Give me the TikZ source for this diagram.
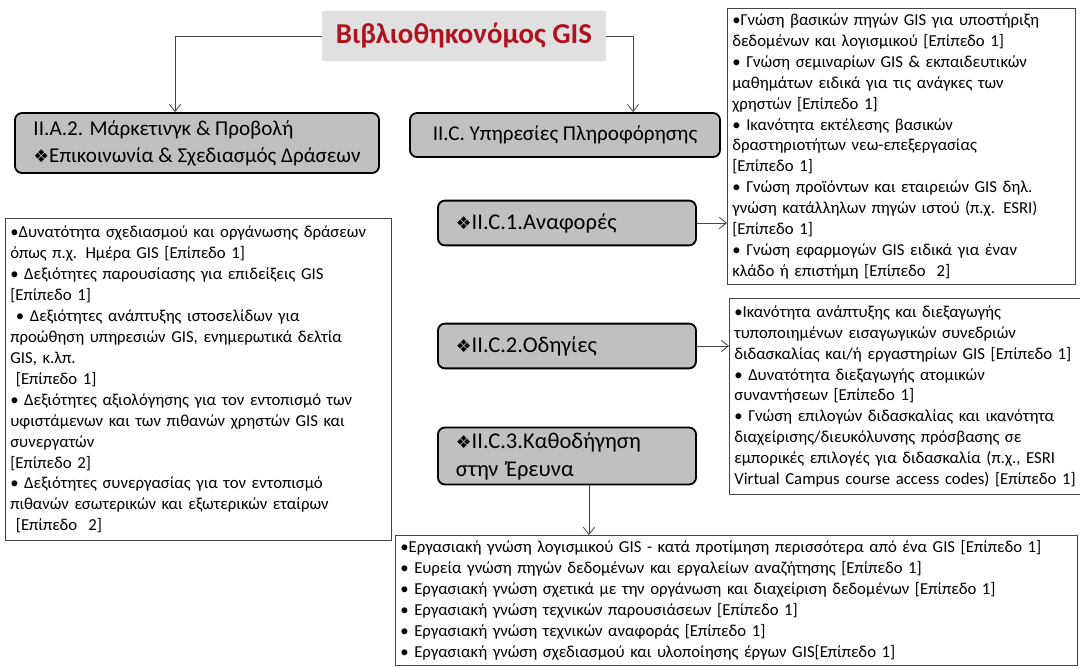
\documentclass[tikz,border=0pt]{standalone}
\usepackage{fontspec}
\setmainfont{Carlito}
\newfontfamily\symfont{DejaVu Sans}
\usetikzlibrary{arrows.meta,positioning}
\definecolor{gisred}{RGB}{175,18,32}
\definecolor{gisgray}{RGB}{192,192,192}
\definecolor{gislight}{RGB}{224,224,224}
\definecolor{gisline}{RGB}{70,70,70}
\newcommand{\dia}{{\symfont\fontsize{12.5}{12.5}\selectfont ❖}}

\begin{document}
\begin{tikzpicture}[
  x=0.025cm, y=-0.025cm,
  title/.style={fill=gislight, rounded corners=2pt, minimum width=7.1cm, minimum height=1.27cm, font=\fontsize{20.5}{24}\selectfont\bfseries, text=gisred},
  unit/.style={draw=black, line width=1.3pt, rounded corners=5pt, fill=gisgray, font=\fontsize{15}{19}\selectfont},
  sub/.style={unit, minimum width=6.45cm, align=left, text width=5.55cm, font=\fontsize{16}{20}\selectfont},
  list/.style={draw=gisline, line width=0.6pt, anchor=north west, align=left, inner xsep=3.5pt, inner ysep=3pt, font=\fontsize{11.9}{14.9}\selectfont},
  conn/.style={draw=gisline, line width=0.6pt, -{Straight Barb[length=5pt,width=8pt]}},
]
\useasboundingbox (0,0) rectangle (1080,668);

\node[title] (lib) at (464,36) {Βιβλιοθηκονόμος GIS};

\node[unit, align=left, minimum width=9.1cm, minimum height=1.5cm] (mkt) at (197,143)
  {II.A.2. Μάρκετινγκ \& Προβολή\\\dia Επικοινωνία \& Σχεδιασμός Δράσεων};
\node[unit, minimum width=7.75cm, minimum height=1.1cm] (info) at (565,135) {II.C. Υπηρεσίες Πληροφόρησης};

\node[sub, minimum height=1.12cm] (rep) at (567,223) {\dia II.C.1.Αναφορές};
\node[sub, minimum height=1.12cm] (gui) at (567,346) {\dia II.C.2.Οδηγίες};
\node[sub, minimum height=1.35cm] (res) at (567,456) {\dia II.C.3.Καθοδήγηση\\στην Έρευνα};

% lists of skills
\node[list, text width=8.45cm, minimum height=6.9cm] (repl) at (727,8) {%
•Γνώση βασικών πηγών GIS για υποστήριξη\\
δεδομένων και λογισμικού [Επίπεδο 1]\\
• Γνώση σεμιναρίων GIS \& εκπαιδευτικών\\
μαθημάτων ειδικά για τις ανάγκες των\\
χρηστών [Επίπεδο 1]\\
• Ικανότητα εκτέλεσης βασικών\\
δραστηριοτήτων νεω-επεξεργασίας\\
{[Επίπεδο 1]}\\
• Γνώση προϊόντων και εταιρειών GIS δηλ.\\
γνώση κατάλληλων πηγών ιστού (π.χ. ESRI)\\
{[Επίπεδο 1]}\\
• Γνώση εφαρμογών GIS ειδικά για έναν\\
κλάδο ή επιστήμη [Επίπεδο~~2]};

\node[list, text width=9.4cm, minimum height=8.05cm] (mktl) at (5,218) {%
•Δυνατότητα σχεδιασμού και οργάνωσης δράσεων\\
όπως π.χ. Ημέρα GIS [Επίπεδο 1]\\
• Δεξιότητες παρουσίασης για επιδείξεις GIS\\
{[Επίπεδο 1]}\\
\ • Δεξιότητες ανάπτυξης ιστοσελίδων για\\
προώθηση υπηρεσιών GIS, ενημερωτικά δελτία\\
GIS, κ.λπ.\\
\ [Επίπεδο 1]\\
• Δεξιότητες αξιολόγησης για τον εντοπισμό των\\
υφιστάμενων και των πιθανών χρηστών GIS και\\
συνεργατών\\
{[Επίπεδο 2]}\\
• Δεξιότητες συνεργασίας για τον εντοπισμό\\
πιθανών εσωτερικών και εξωτερικών εταίρων\\
\ [Επίπεδο~~2]};

\node[list, text width=8.6cm, minimum height=4.9cm] (guil) at (729,298) {%
•Ικανότητα ανάπτυξης και διεξαγωγής\\
τυποποιημένων εισαγωγικών συνεδριών\\
διδασκαλίας και/ή εργαστηρίων GIS [Επίπεδο 1]\\
• Δυνατότητα διεξαγωγής ατομικών\\
συναντήσεων [Επίπεδο 1]\\
• Γνώση επιλογών διδασκαλίας και ικανότητα\\
διαχείρισης/διευκόλυνσης πρόσβασης σε\\
εμπορικές επιλογές για διδασκαλία (π.χ., ESRI\\
Virtual Campus course access codes) [Επίπεδο 1]};

\node[list, text width=16.8cm, minimum height=3.25cm] (resl) at (395,535) {%
•Εργασιακή γνώση λογισμικού GIS - κατά προτίμηση περισσότερα από ένα GIS [Επίπεδο 1]\\
• Ευρεία γνώση πηγών δεδομένων και εργαλείων αναζήτησης [Επίπεδο 1]\\
• Εργασιακή γνώση σχετικά με την οργάνωση και διαχείριση δεδομένων [Επίπεδο 1]\\
• Εργασιακή γνώση τεχνικών παρουσιάσεων [Επίπεδο 1]\\
• Εργασιακή γνώση τεχνικών αναφοράς [Επίπεδο 1]\\
• Εργασιακή γνώση σχεδιασμού και υλοποίησης έργων GIS[Επίπεδο 1]};

% connectors
\draw[conn] (lib.west) -| ([xshift=-0.55cm]mkt.north);
\draw[conn] (lib.east) -| ([xshift=1.7cm]info.north);
\draw[conn] (rep.east) -- (rep.east -| repl.west);
\draw[conn] (gui.east) -- (gui.east -| guil.west);
\draw[conn] ([xshift=0.55cm]res.south) -- ([xshift=0.55cm]res.south |- resl.north);
\end{tikzpicture}
\end{document}
